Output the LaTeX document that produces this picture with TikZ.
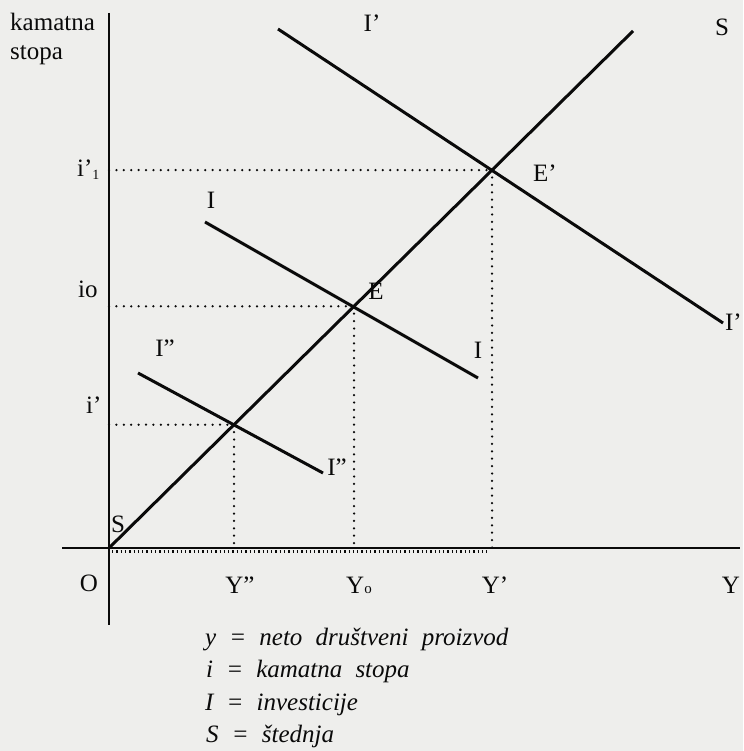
\documentclass[tikz,border=0pt]{standalone}
\usepackage{fontspec}
\setmainfont{Liberation Serif}
\newfontfamily\legfont[WordSpace=2.1]{Liberation Serif}
\definecolor{paper}{RGB}{238,238,236}
\definecolor{ink}{RGB}{10,10,10}
\begin{document}
\begin{tikzpicture}[x=1pt,y=-1pt,
  lbl/.style={font=\fontsize{25}{30}\selectfont, text=ink, inner sep=0pt, anchor=base},
  leg/.style={font=\legfont\itshape\fontsize{25}{30}\selectfont, text=ink, inner sep=0pt, anchor=base west},
  curve/.style={draw=ink, line width=3pt},
  axisline/.style={draw=ink, line width=2.6pt},
  guide/.style={draw=ink, line width=2.5pt, line cap=round, dash pattern=on 0pt off 7.4pt},
  hatch/.style={draw=ink, line width=3pt, dash pattern=on 1.3pt off 3pt}
]
\fill[paper] (0,0) rectangle (743,751);
\useasboundingbox (0,0) rectangle (743,751);

% axes
\coordinate (O) at (109,548);
\coordinate (Vtop) at (109,13);
\coordinate (Vbot) at (109,625);
\coordinate (Hl) at (62,548);
\coordinate (Hr) at (740,548);
\draw[axisline] (Vtop) -- (Vbot);
\draw[axisline] (Hl) -- (Hr);
\coordinate (Ha) at (112,551.5);
\coordinate (Hb) at (487,551.5);
\draw[hatch] (Ha) -- (Hb);

% equilibrium points
\coordinate (E2) at (234,424.7);
\coordinate (E)  at (354,306.3);
\coordinate (E1) at (492,170.1);

% saving line S
\coordinate (Stop) at (633,31);
\draw[curve] (O) -- (Stop);

% investment lines
\coordinate (Ia) at (205,222);
\coordinate (Ib) at (478,378);
\draw[curve] (Ia) -- (Ib);
\coordinate (I1a) at (278,29);
\coordinate (I1b) at (723,323);
\draw[curve] (I1a) -- (I1b);
\coordinate (I2a) at (138,373);
\coordinate (I2b) at (323,473);
\draw[curve] (I2a) -- (I2b);

% guides
\draw[guide] (O |- E1) -- (E1);
\draw[guide] (E1) -- (E1 |- O);
\draw[guide] (O |- E) -- (E);
\draw[guide] (E) -- (E |- O);
\draw[guide] (O |- E2) -- (E2);
\draw[guide] (E2) -- (E2 |- O);

% labels
\node[lbl, anchor=base west] (ylab1) at (10,31) {kamatna};
\node[lbl, anchor=base west] (ylab2) at (10,60) {stopa};
\node[lbl] (lI1top) at (372,32) {I'};
\node[lbl] (lStop) at (722,36) {S};
\node[lbl, anchor=base west] (lE1) at (533,182) {E'};
\node[lbl, anchor=base west] (li1) at (77,177) {i'\raisebox{-3pt}{\fontsize{14}{14}\selectfont 1}};
\node[lbl] (lIup) at (211,208) {I};
\node[lbl, anchor=base west] (lio) at (78,297) {io};
\node[lbl] (lE) at (376,299) {E};
\node[lbl] (lIdn) at (478,358) {I};
\node[lbl] (lI2up) at (165,356) {I''};
\node[lbl, anchor=base west] (lip) at (86,413) {i'};
\node[lbl] (lI2dn) at (337,475) {I''};
\node[lbl, anchor=base east] (lI1r) at (742,330) {I'};
\node[lbl] (lSbot) at (118,532) {S};
\node[lbl] (lO) at (89,591) {O};
\node[lbl] (lY2) at (240,593) {Y''};
\node[lbl, anchor=base west] (lY0) at (346,593) {Y\fontsize{15}{15}\selectfont o};
\node[lbl] (lY1) at (495,593) {Y'};
\node[lbl] (lY) at (731,593) {Y};

% legend
\node[leg] (leg1) at (205,645) {y = neto društveni proizvod};
\node[leg] (leg2) at (206,677) {i = kamatna stopa};
\node[leg] (leg3) at (205,710) {I = investicije};
\node[leg] (leg4) at (206,742) {S = štednja};
\end{tikzpicture}
\end{document}
